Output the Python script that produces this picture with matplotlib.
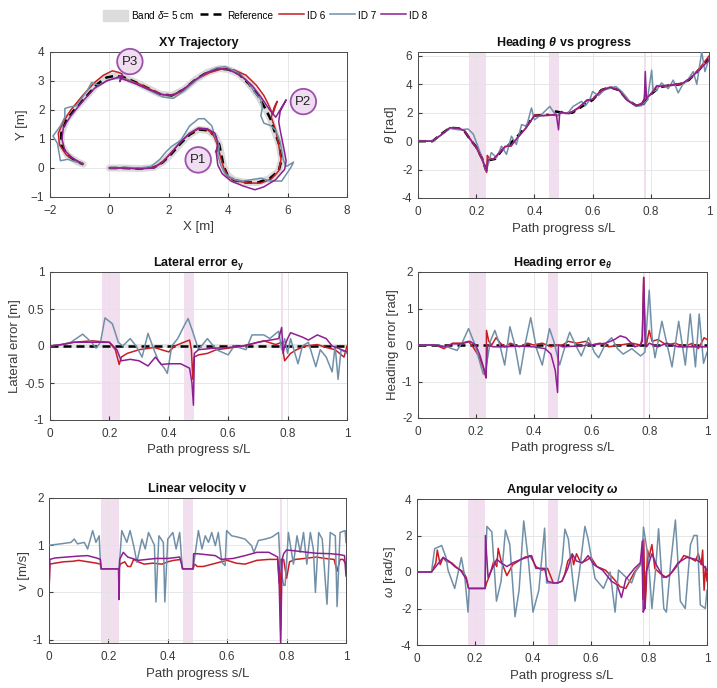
import numpy as np
import matplotlib
matplotlib.use('Agg')
import matplotlib.pyplot as plt
from matplotlib.patches import Patch
from matplotlib.lines import Line2D

plt.rcParams['font.family'] = ['Liberation Sans', 'DejaVu Sans']
plt.rcParams['mathtext.fontset'] = 'custom'
plt.rcParams['mathtext.rm'] = 'Liberation Sans'
plt.rcParams['mathtext.it'] = 'Liberation Sans:italic'
plt.rcParams['mathtext.bf'] = 'Liberation Sans:italic:bold'
plt.rcParams['mathtext.sf'] = 'Liberation Sans:bold'

nan = np.nan

# ---- colours
C6 = '#C81E23'
C7 = '#7190A8'
C8 = '#8E1E92'
BAND = '#F1DEEF'
TXT = '#3A3A3A'

# ---- shaded windows (s/L)
windows = [(0.175, 0.235), (0.45, 0.485), (0.778, 0.784)]

# ---- XY trajectory
ref_x = [0, 0.5, 1.0, 1.5, 1.8, 2.1, 2.4, 2.7, 3.0, 3.3, 3.55, 3.7, 3.78, 3.85, 3.98, 4.2, 4.6, 5.0, 5.4, 5.7,
         5.8, 5.72, 5.55, 5.42, 5.25, 5.0, 4.7, 4.35, 4.0, 3.7, 3.3, 2.9, 2.5, 2.1, 1.7, 1.3, 0.9, 0.5, 0.2,
         -0.1, -0.4, -0.75, -1.15, -1.45, -1.62, -1.62, -1.42, -1.1, -0.88]
ref_y = [0, 0, -0.02, 0.02, 0.2, 0.5, 0.85, 1.15, 1.33, 1.3, 1.12, 0.8, 0.4, 0.05, -0.25, -0.42, -0.5, -0.5, -0.36, -0.1,
         0.3, 0.8, 1.3, 1.7, 2.05, 2.5, 2.9, 3.25, 3.4, 3.43, 3.3, 3.05, 2.7, 2.5, 2.55, 2.75, 2.95, 3.12, 3.18,
         3.12, 2.9, 2.5, 2.05, 1.65, 1.2, 0.8, 0.45, 0.22, 0.13]

id6_x = [0, 0.5, 1.0, 1.5, 1.8, 2.1, 2.4, 2.7, 3.0, 3.3, 3.5, 3.62, 3.65, 3.57, 3.68, 3.75, 3.85, 4.0, 4.3, 4.7, 5.1,
         5.45, 5.7, 5.78, 5.7, 5.6, 5.5, 5.45, 5.55, 5.65, 5.5, 5.35, 5.2, 4.95, 4.6, 4.2, 3.8, 3.4, 3.0, 2.6, 2.2,
         1.8, 1.4, 1.0, 0.6, 0.45, 0.42, 0.3, 0.1, -0.2, -0.5, -0.9, -1.3, -1.55, -1.72, -1.68, -1.45, -1.1, -0.88]
id6_y = [0, 0, -0.02, 0.03, 0.22, 0.55, 0.9, 1.18, 1.35, 1.32, 1.15, 0.85, 0.75, 0.55, 0.62, 0.35, 0.0, -0.3, -0.45, -0.52,
         -0.52, -0.38, -0.1, 0.3, 0.8, 1.3, 1.6, 1.75, 2.1, 2.3, 1.85, 2.2, 2.5, 2.85, 3.2, 3.38, 3.42, 3.3, 3.1, 2.78,
         2.52, 2.52, 2.7, 2.9, 3.05, 3.1, 3.25, 3.3, 3.35, 3.2, 2.95, 2.5, 2.0, 1.6, 1.2, 0.8, 0.45, 0.25, 0.15]

id7_x = [0, 0.5, 1.0, 1.4, 1.7, 1.9, 2.1, 2.4, 2.7, 3.0, 3.2, 3.45, 3.55, 3.7, 3.65, 3.75, 3.9, 4.2, 4.5, 4.8, 5.1,
         5.4, 5.8, 6.1, 6.2, 5.95, 5.85, 5.75, 5.6, 5.45, 5.2, 5.1, 5.15, 5.1, 4.9, 4.6, 4.3, 3.9, 3.6, 3.3, 2.9,
         2.5, 2.15, 1.8, 1.4, 1.0, 0.6, 0.3, 0.0, -0.35, -0.6, -0.7, -0.9, -1.1, -1.35, -1.5, -1.5, -1.65, -1.9,
         -1.75, -1.7, -1.65, -1.4, -1.1, -0.9]
id7_y = [0, 0.02, 0.0, 0.05, 0.3, 0.55, 0.75, 0.95, 1.45, 1.7, 1.7, 1.45, 1.1, 0.75, 0.45, 0.1, -0.2, -0.4, -0.45, -0.4,
         -0.35, -0.45, -0.45, 0.0, 0.2, 0.05, 0.3, 0.9, 1.3, 1.45, 1.55, 1.8, 2.1, 2.35, 2.6, 3.05, 3.3, 3.5, 3.45, 3.3,
         3.0, 2.65, 2.4, 2.45, 2.65, 2.85, 3.05, 3.1, 3.05, 2.85, 2.95, 2.75, 2.45, 2.15, 2.1, 2.05, 1.75, 1.45, 1.1,
         0.85, 0.55, 0.25, 0.3, 0.2, 0.15]

id8_x = [0, 0.5, 1.0, 1.5, 1.8, 2.1, 2.4, 2.7, 3.0, 3.3, 3.55, 3.65, 3.6, 3.65, 3.8, 4.1, 4.5, 4.9, 5.2, 5.6, 5.9,
         5.95, 5.85, 5.75, 5.7, 5.75, 5.95, 5.6, 5.4, 5.1, 4.8, 4.4, 4.0, 3.7, 3.3, 2.9, 2.5, 2.1, 1.7, 1.3, 0.9,
         0.5, 0.38, 0.35, 0.45, 0.2, -0.1, -0.5, -0.9, -1.3, -1.55, -1.6, -1.5, -1.25, -0.9]
id8_y = [0, 0, -0.03, 0.0, 0.2, 0.55, 0.9, 1.2, 1.38, 1.35, 1.2, 0.9, 0.5, 0.1, -0.2, -0.45, -0.62, -0.75, -0.65, -0.4,
         -0.05, 0.25, 0.8, 1.3, 1.6, 1.95, 2.35, 1.75, 2.0, 2.45, 2.85, 3.2, 3.4, 3.42, 3.3, 3.05, 2.72, 2.5, 2.55,
         2.72, 2.9, 3.05, 3.1, 2.98, 3.2, 3.1, 3.0, 2.75, 2.3, 1.8, 1.4, 1.0, 0.6, 0.35, 0.13]

markers_xy = [('P1', 2.99, 0.28), ('P2', 6.53, 2.29), ('P3', 0.69, 3.67)]

# ---- heading theta
th_ref_s = [0, 0.05, 0.08, 0.11, 0.14, 0.16, 0.18, 0.2, 0.22, 0.235, nan, 0.24, 0.265, 0.29, 0.31, 0.34, 0.37, 0.4,
            0.43, 0.45, nan, 0.47, 0.5, 0.53, 0.56, 0.6, 0.63, 0.66, 0.69, 0.72, 0.75, 0.77, 0.785, 0.8, 0.83,
            0.87, 0.9, 0.93, 0.96, 1.0]
th_ref = [0, 0, 0.5, 0.95, 0.9, 0.7, 0.1, -0.4, -1.2, -2.1, nan, -1.35, -1.25, -0.6, -0.3, 0.3, 1.0, 1.8,
          1.85, 1.85, nan, 2.1, 2.0, 2.0, 2.4, 2.9, 3.6, 3.8, 3.6, 2.9, 2.5, 2.5, 2.9, 3.3, 3.8,
          3.95, 4.0, 4.3, 4.9, 5.8]
th6_s = [0, 0.05, 0.08, 0.11, 0.14, 0.16, 0.18, 0.2, 0.22, 0.236, 0.238, 0.245, 0.26, 0.28, 0.3, 0.32, 0.34, 0.37,
         0.39, 0.4, 0.43, 0.46, 0.48, 0.493, 0.505, 0.52, 0.55, 0.58, 0.6, 0.63, 0.66, 0.69, 0.72, 0.75, 0.77,
         0.778, 0.781, 0.785, 0.79, 0.8, 0.82, 0.85, 0.88, 0.91, 0.94, 0.97, 1.0]
th6 = [0, 0, 0.45, 0.95, 0.9, 0.75, 0.15, -0.45, -1.3, -2.2, -1.0, -1.2, -1.25, -0.8, -0.35, -0.35, 0.2, 0.9,
       1.5, 1.85, 1.8, 1.85, 1.8, 2.1, 1.95, 1.95, 2.3, 2.9, 2.95, 3.6, 3.8, 3.6, 2.9, 2.5, 2.7,
       3.0, 3.9, 3.0, 3.2, 3.3, 3.9, 3.85, 3.95, 4.05, 4.5, 5.2, 6.0]
th7_s = [0, 0.05, 0.08, 0.11, 0.14, 0.172, 0.19, 0.21, 0.235, 0.252, 0.27, 0.287, 0.304, 0.321, 0.338, 0.356, 0.373,
         0.39, 0.4, 0.424, 0.453, 0.476, 0.493, 0.516, 0.533, 0.562, 0.575, 0.59, 0.6, 0.62, 0.64, 0.68, 0.7,
         0.728, 0.75, 0.768, 0.788, 0.803, 0.808, 0.82, 0.837, 0.86, 0.877, 0.894, 0.91, 0.923, 0.946, 0.958,
         0.975, 0.986, 1.0]
th7 = [0, 0, 0.45, 0.9, 0.8, 0.86, 0.5, -0.6, -2.1, -0.8, -1.17, -0.35, -0.93, 0.35, -0.23, 1.17, 1.05,
       2.34, 1.5, 1.87, 2.45, 1.75, 2.0, 2.0, 2.45, 2.8, 2.5, 2.9, 3.5, 3.2, 3.6, 3.85, 3.5,
       2.8, 2.45, 2.5, 2.9, 5.0, 3.5, 3.6, 4.1, 3.7, 4.3, 3.4, 4.0, 4.2, 4.9, 4.0,
       6.3, 4.9, 5.8]
th8_s = [0, 0.05, 0.08, 0.11, 0.14, 0.16, 0.18, 0.2, 0.22, 0.236, 0.24, 0.26, 0.28, 0.3, 0.32, 0.34, 0.37, 0.4,
         0.43, 0.46, 0.475, 0.483, 0.487, 0.5, 0.52, 0.55, 0.58, 0.6, 0.63, 0.66, 0.69, 0.72, 0.75, 0.77, 0.778,
         0.781, 0.785, 0.79, 0.8, 0.82, 0.85, 0.88, 0.91, 0.94, 0.97, 1.0]
th8 = [0, 0, 0.45, 0.95, 0.9, 0.72, 0.1, -0.4, -1.2, -2.1, -1.3, -1.25, -0.8, -0.4, -0.3, 0.2, 0.9, 1.8,
       1.8, 1.85, 1.9, 0.8, 2.0, 2.0, 1.95, 2.35, 2.85, 2.95, 3.55, 3.8, 3.6, 2.85, 2.5, 2.6, 3.0,
       4.9, 3.0, 3.1, 3.3, 3.85, 3.9, 4.0, 4.1, 4.5, 5.1, 5.7]

# ---- lateral error e_y
ey6_s = [0, 0.04, 0.08, 0.14, 0.2, 0.22, 0.233, 0.24, 0.26, 0.3, 0.35, 0.4, 0.42, 0.45, 0.47, 0.476, 0.481, 0.485,
         0.5, 0.53, 0.56, 0.6, 0.65, 0.7, 0.72, 0.76, 0.78, 0.79, 0.81, 0.83, 0.86, 0.9, 0.93, 0.96, 0.99, 1.0]
ey6 = [0, 0.02, 0.05, 0.07, 0.05, -0.05, -0.25, -0.15, -0.1, -0.05, -0.02, -0.08, 0.0, 0.05, 0.08, -0.05, -0.45, -0.15,
       -0.12, -0.1, -0.05, -0.03, 0.0, 0.05, 0.07, 0.02, 0.05, -0.2, -0.1, -0.05, 0.0, 0.02, -0.02, -0.05, -0.15, 0.0]
ey7_s = [0, 0.04, 0.07, 0.11, 0.14, 0.155, 0.17, 0.185, 0.21, 0.23, 0.245, 0.27, 0.29, 0.31, 0.33, 0.35, 0.365,
         0.385, 0.395, 0.41, 0.43, 0.455, 0.465, 0.48, 0.5, 0.53, 0.56, 0.6, 0.62, 0.66, 0.68, 0.72, 0.74, 0.77,
         0.78, 0.79, 0.8, 0.81, 0.835, 0.85, 0.87, 0.895, 0.91, 0.93, 0.95, 0.96, 0.97, 0.98, 1.0]
ey7 = [0, 0.02, 0.05, 0.16, 0.05, -0.03, 0.05, 0.38, 0.3, 0.05, 0.0, 0.1, 0.0, -0.15, 0.17, -0.05, -0.2,
       -0.3, -0.37, 0.0, 0.1, 0.3, 0.37, 0.2, -0.05, 0.1, -0.05, -0.12, 0.0, -0.05, 0.15, 0.15, 0.1, 0.2,
       -0.05, 0.1, -0.1, 0.1, -0.24, 0.0, 0.05, -0.28, -0.05, -0.15, -0.35, 0.0, -0.45, -0.05, -0.1]
ey8_s = [0, 0.04, 0.08, 0.2, 0.225, 0.24, 0.27, 0.3, 0.33, 0.355, 0.375, 0.4, 0.44, 0.47, 0.478, 0.483, 0.486,
         0.5, 0.55, 0.6, 0.65, 0.7, 0.77, 0.78, 0.785, 0.79, 0.8, 0.81, 0.85, 0.87, 0.9, 0.93, 0.95, 0.97, 1.0]
ey8 = [0, 0.02, 0.05, 0.05, -0.05, -0.2, -0.18, -0.2, -0.27, -0.15, -0.25, -0.24, -0.24, -0.3, -0.5, -0.8, -0.1,
       -0.05, -0.03, -0.02, 0.0, 0.05, 0.1, 0.25, -0.1, 0.0, 0.1, 0.18, 0.12, 0.08, 0.15, 0.1, 0.0, -0.03, -0.08]

# ---- heading error e_theta
et6_s = [0, 0.06, 0.09, 0.12, 0.15, 0.175, 0.19, 0.21, 0.225, 0.236, 0.237, 0.245, 0.255, 0.27, 0.285, 0.3, 0.32,
         0.35, 0.38, 0.4, 0.43, 0.46, 0.48, 0.5, 0.52, 0.55, 0.58, 0.6, 0.63, 0.66, 0.7, 0.74, 0.77, 0.776, 0.781,
         0.786, 0.79, 0.8, 0.81, 0.83, 0.86, 0.89, 0.92, 0.95, 0.97, 0.99, 1.0]
et6 = [0, 0, -0.1, 0.05, 0.05, 0.1, -0.05, -0.3, -0.6, -0.9, 0.4, 0.1, 0.0, 0.2, 0.05, -0.05, 0.05,
       -0.05, 0.05, 0.0, 0.05, -0.05, 0.0, 0.0, 0.1, 0.05, 0.1, 0.0, 0.05, -0.05, 0.0, 0.05, 0.0, 0.2, 1.85,
       0.3, 0.0, 0.4, 0.1, 0.15, 0.0, 0.05, -0.05, 0.05, -0.1, 0.2, 0.15]
et7_s = [0, 0.07, 0.1, 0.135, 0.155, 0.175, 0.195, 0.215, 0.226, 0.236, 0.25, 0.266, 0.283, 0.3, 0.318, 0.335,
         0.353, 0.37, 0.39, 0.41, 0.43, 0.455, 0.47, 0.49, 0.51, 0.525, 0.545, 0.565, 0.59, 0.61, 0.625, 0.65,
         0.67, 0.69, 0.71, 0.74, 0.77, 0.785, 0.8, 0.81, 0.82, 0.844, 0.879, 0.902, 0.925, 0.942, 0.96, 0.973,
         0.988, 1.0]
et7 = [0, 0, -0.05, -0.15, 0.1, 0.45, 0.05, -0.5, -0.8, -0.6, 0.1, 0.4, 0.0, -0.55, 0.5, 0.0,
       -0.8, 0.0, 0.75, -0.1, -0.55, 0.45, 0.1, -0.55, 0.0, 0.35, 0.0, -0.3, 0.2, -0.2, -0.35, 0.05,
       0.2, -0.1, -0.25, -0.1, -0.3, -0.2, 1.5, 0.2, -0.35, 0.65, -0.6, 0.65, -0.55, 0.85, -0.6, 0.85,
       -0.5, -0.2]
et8_s = [0, 0.06, 0.09, 0.12, 0.15, 0.18, 0.2, 0.215, 0.23, 0.235, 0.24, 0.26, 0.3, 0.35, 0.4, 0.44, 0.46, 0.475,
         0.483, 0.486, 0.5, 0.55, 0.6, 0.65, 0.68, 0.7, 0.72, 0.75, 0.77, 0.776, 0.781, 0.786, 0.79, 0.8, 0.83,
         0.86, 0.9, 0.95, 1.0]
et8 = [0, 0, -0.05, 0.03, 0.03, 0.1, 0.0, -0.3, -0.7, -0.9, 0.0, -0.05, -0.05, -0.03, -0.05, -0.1, -0.25, -0.7,
       -1.3, 0.0, -0.05, -0.03, 0.0, 0.05, 0.15, 0.25, 0.2, -0.05, 0.0, 0.1, 1.85, 0.0, -0.05, 0.05, -0.05,
       0.05, -0.05, -0.05, -0.05]

# ---- linear velocity v
v6_s = [0, 0.003, 0.02, 0.05, 0.08, 0.1, 0.13, 0.16, 0.173, 0.176, 0.235, 0.24, 0.255, 0.265, 0.275, 0.285, 0.3,
        0.32, 0.35, 0.38, 0.4, 0.42, 0.445, 0.45, 0.485, 0.49, 0.5, 0.52, 0.55, 0.58, 0.6, 0.63, 0.66, 0.7, 0.74,
        0.77, 0.775, 0.777, 0.78, 0.783, 0.79, 0.8, 0.81, 0.83, 0.86, 0.9, 0.93, 0.96, 0.97, 0.98, 0.99, 1.0]
v6 = [0, 0.6, 0.62, 0.65, 0.66, 0.68, 0.65, 0.62, 0.6, 0.5, 0.5, 0.6, 0.65, 0.55, 0.55, 0.7, 0.65,
      0.6, 0.62, 0.6, 0.65, 0.68, 0.7, 0.5, 0.5, 0.6, 0.55, 0.55, 0.6, 0.65, 0.68, 0.62, 0.6, 0.68, 0.7,
      0.7, 0.2, 0.7, -0.8, 0.7, 0.7, 0.3, 0.65, 0.7, 0.72, 0.75, 0.72, 0.7, 0.45, 0.7, 0.7, 0.6]
v7_s = [0, 0.002, 0.04, 0.074, 0.085, 0.096, 0.119, 0.13, 0.147, 0.158, 0.169, 0.174, 0.236, 0.245, 0.262, 0.273,
        0.285, 0.296, 0.313, 0.324, 0.335, 0.355, 0.36, 0.37, 0.385, 0.39, 0.4, 0.417, 0.428, 0.44, 0.449, 0.485,
        0.503, 0.515, 0.526, 0.537, 0.548, 0.56, 0.57, 0.582, 0.593, 0.598, 0.615, 0.637, 0.66, 0.682, 0.69,
        0.705, 0.728, 0.75, 0.773, 0.778, 0.79, 0.795, 0.806, 0.823, 0.835, 0.846, 0.857, 0.868, 0.88, 0.89,
        0.897, 0.908, 0.92, 0.936, 0.947, 0.964, 0.97, 0.98, 0.997, 1.0]
v7 = [1.0, 1.0, 1.03, 1.06, 1.13, 1.03, 1.06, 0.92, 1.31, 1.06, 1.2, 0.5, 0.5, 1.31, 1.06, 1.31,
      0.99, 0.64, 1.13, 0.92, 1.27, 1.0, -0.2, 1.2, 1.06, -0.2, 1.13, 1.27, 0.92, 1.27, 0.5, 0.5,
      1.31, 0.92, 1.2, 1.06, 1.27, 0.99, 1.27, 0.64, 0.57, 1.31, 1.2, 1.17, 1.13, 0.99, 0.85,
      1.1, 1.13, 1.17, 1.27, 0.6, 0.15, 0.15, 1.27, 0.6, 1.2, 0.85, 1.27, 0.6, 1.27, 0.92,
      0.0, 1.27, 1.13, -0.25, 1.27, 1.2, -0.3, 1.27, 1.31, 1.06]
v8_s = [0, 0.003, 0.02, 0.06, 0.1, 0.13, 0.16, 0.173, 0.176, 0.234, 0.236, 0.238, 0.25, 0.265, 0.28, 0.3, 0.33,
        0.36, 0.4, 0.44, 0.45, 0.485, 0.487, 0.5, 0.53, 0.56, 0.58, 0.62, 0.66, 0.7, 0.74, 0.77, 0.775, 0.78,
        0.785, 0.79, 0.8, 0.83, 0.87, 0.9, 0.95, 0.98, 0.995, 1.0]
v8 = [0, 0.7, 0.73, 0.75, 0.77, 0.78, 0.73, 0.7, 0.5, 0.5, -0.15, 0.7, 0.85, 0.75, 0.72, 0.68, 0.7,
      0.72, 0.72, 0.75, 0.5, 0.5, 0.82, 0.82, 0.8, 0.78, 0.7, 0.72, 0.78, 0.85, 0.85, 0.75, 0.2, -1.1,
      0.7, 0.82, 0.9, 0.88, 0.85, 0.83, 0.82, 0.8, 0.78, 0.35]

# ---- angular velocity omega
w6_s = [0, 0.05, 0.065, 0.07, 0.08, 0.09, 0.1, 0.12, 0.14, 0.16, 0.17, 0.178, 0.235, 0.24, 0.25, 0.265, 0.275,
        0.28, 0.29, 0.3, 0.31, 0.33, 0.35, 0.37, 0.39, 0.41, 0.43, 0.45, 0.47, 0.485, 0.5, 0.51, 0.52, 0.535,
        0.54, 0.55, 0.565, 0.58, 0.6, 0.62, 0.65, 0.68, 0.7, 0.72, 0.75, 0.77, 0.776, 0.779, 0.782, 0.786,
        0.79, 0.795, 0.8, 0.81, 0.82, 0.84, 0.86, 0.88, 0.9, 0.92, 0.94, 0.96, 0.97, 0.98, 0.985, 0.99, 0.995, 1.0]
w6 = [0, 0, 0.5, 1.2, 0.4, 0.8, 0.6, 0.5, 0.2, 0.0, -0.3, -0.9, -0.9, -0.6, -0.2, 0.6, 0.3,
      1.3, 0.6, 0.2, -0.2, 0.4, 0.6, 0.8, 0.9, 0.3, 0.1, 0.2, -0.6, -0.6, -0.5, -0.1, 0.6, 0.9,
      0.4, 1.0, 0.5, 0.6, 0.8, 0.3, 0.1, -0.4, -0.8, -0.9, 0.0, 0.4, 1.0, -1.5, 1.8, -2.0,
      -1.0, 1.2, 0.8, 1.5, 0.2, -0.1, -0.3, 0.0, 0.4, 0.9, 0.8, 0.6, 1.0, 0.4, 1.2, -1.0, 0.3, -0.5]
w7_s = [0, 0.05, 0.061, 0.085, 0.1, 0.107, 0.13, 0.145, 0.153, 0.165, 0.176, 0.18, 0.234, 0.241, 0.258, 0.274,
        0.29, 0.305, 0.32, 0.338, 0.352, 0.368, 0.385, 0.4, 0.42, 0.44, 0.447, 0.485, 0.5, 0.51, 0.522, 0.545,
        0.56, 0.579, 0.59, 0.614, 0.643, 0.666, 0.683, 0.695, 0.718, 0.74, 0.753, 0.775, 0.781, 0.798, 0.81,
        0.822, 0.833, 0.851, 0.86, 0.875, 0.891, 0.908, 0.925, 0.943, 0.955, 0.966, 0.977, 0.994, 1.0]
w7 = [0, 0, 1.28, 1.45, 0.8, 0.1, -0.9, 0.2, 0.8, -0.3, -2.2, -0.9, -0.9, 2.5, 2.2, -1.6,
      -0.5, 2.3, 1.5, -2.45, -1.0, 2.8, 0.5, -2.2, -1.0, 2.4, -0.6, -0.6, 0.5, 2.35, 1.8, -1.6,
      0.0, 2.5, 1.8, -0.35, -0.9, 0.0, -2.2, 0.1, -0.25, -0.6, 0.0, 0.5, 2.46, 0.7, -2.0,
      0.0, 2.37, -2.0, -2.2, 0.5, 2.85, -1.6, -2.0, 1.5, 2.0, 2.0, -1.8, -2.0, -1.0]
w8_s = [0, 0.05, 0.07, 0.09, 0.11, 0.13, 0.15, 0.17, 0.178, 0.235, 0.236, 0.245, 0.26, 0.275, 0.29, 0.31, 0.33,
        0.36, 0.38, 0.395, 0.41, 0.44, 0.45, 0.47, 0.485, 0.5, 0.52, 0.535, 0.55, 0.57, 0.59, 0.61, 0.64, 0.67,
        0.69, 0.705, 0.72, 0.75, 0.77, 0.777, 0.78, 0.785, 0.79, 0.8, 0.81, 0.825, 0.85, 0.87, 0.9, 0.93, 0.96,
        0.98, 1.0]
w8 = [0, 0, 0.4, 0.8, 0.6, 0.3, 0.1, -0.4, -0.9, -0.9, 2.0, -0.3, 0.2, 0.7, 0.5, 0.3, 0.5,
      0.7, 0.8, 0.9, 0.2, 0.2, -0.5, -0.6, -0.6, -0.5, 0.2, 1.0, 0.6, 0.5, 0.9, 0.4, 0.1, -0.5,
      -0.7, -1.4, -0.4, 0.2, 0.5, 1.7, -2.2, -2.0, 0.0, 0.5, 1.0, 0.4, -0.3, -0.2, 0.5, 0.8, 0.7,
      0.5, 0.1]


def style(ax, title, xlabel, ylabel, xlim, ylim, yticks, xticks):
    ax.set_xlim(xlim)
    ax.set_ylim(ylim)
    ax.set_xticks(xticks)
    ax.set_yticks(yticks)
    ax.grid(True, color='#E3E3E3', lw=0.6)
    ax.set_axisbelow(True)
    ax.tick_params(direction='in', length=3, labelsize=8.5, colors=TXT, pad=4)
    ax.tick_params(axis='x', pad=6)
    for sp in ax.spines.values():
        sp.set_color('#4A4A4A')
        sp.set_linewidth(0.7)
    ax.set_title(title, fontsize=9, fontweight='bold', pad=4, color='#111111')
    ax.set_xlabel(xlabel, fontsize=9.5, color=TXT, labelpad=3)
    ax.set_ylabel(ylabel, fontsize=9.5, color=TXT, labelpad=2)


def fmt(v):
    return '%g' % v


def progress_axes(ax):
    for a, b in windows:
        ax.axvspan(a, b, color=BAND, lw=0, zorder=0.5)
    ax.set_xticklabels([fmt(t) for t in ax.get_xticks()])
    ax.set_yticklabels([fmt(t) for t in ax.get_yticks()])


fig = plt.figure(figsize=(7.17, 6.88), dpi=100)
W, H = 717.0, 688.0


def add(l, r, t, b):
    return fig.add_axes([l / W, 1 - b / H, (r - l) / W, (b - t) / H])


sticks = [0, 0.2, 0.4, 0.6, 0.8, 1.0]
dash = dict(color='k', lw=1.8, dashes=(3.2, 2.0))

# XY trajectory
ax = add(50, 347, 52, 197)
ax.plot(ref_x, ref_y, color='#DADADA', lw=5, solid_capstyle='round', zorder=1)
ax.plot(ref_x, ref_y, zorder=2, **dash)
ax.plot(id6_x, id6_y, color=C6, lw=1.1, zorder=3)
ax.plot(id7_x, id7_y, color=C7, lw=1.1, zorder=3)
ax.plot(id8_x, id8_y, color=C8, lw=1.1, zorder=3)
for name, px, py in markers_xy:
    ax.text(px, py, name, ha='center', va='center', fontsize=9.5, color='#222222', zorder=5,
            bbox=dict(boxstyle='circle,pad=0.35', fc='#F0DDF1', ec='#9D52AA', lw=1.3))
style(ax, 'XY Trajectory', 'X [m]', 'Y [m]', (-2, 8), (-1, 4), range(-1, 5), range(-2, 9, 2))

# Heading
ax = add(418, 709, 52, 198)
style(ax, r'Heading $\mathbf{\theta}$ vs progress', 'Path progress s/L', r'$\theta$ [rad]',
      (0, 1), (-4, 6.28), [-4, -2, 0, 2, 4, 6], sticks)
progress_axes(ax)
ax.plot(th_ref_s, th_ref, zorder=2, **dash)
ax.plot(th6_s, th6, color=C6, lw=1.1, zorder=3)
ax.plot(th7_s, th7, color=C7, lw=1.1, zorder=3)
ax.plot(th8_s, th8, color=C8, lw=1.1, zorder=3)

# Lateral error
ax = add(50, 347, 272, 420)
style(ax, r'Lateral error e$_\mathsf{y}$', 'Path progress s/L', 'Lateral error [m]',
      (0, 1), (-1, 1), [-1, -0.5, 0, 0.5, 1], sticks)
progress_axes(ax)
ax.fill_between([0, 1], [-0.025, -0.025], [0.025, 0.025], color='#E4E4E4', lw=0, zorder=1)
ax.plot([0, 1], [0, 0], zorder=2, **dash)
ax.plot(ey6_s, ey6, color=C6, lw=1.1, zorder=3)
ax.plot(ey7_s, ey7, color=C7, lw=1.1, zorder=3)
ax.plot(ey8_s, ey8, color=C8, lw=1.1, zorder=3)

# Heading error
ax = add(418, 707, 272, 418)
style(ax, r'Heading error e$_\mathbf{\theta}$', 'Path progress s/L', 'Heading error [rad]',
      (0, 1), (-2, 2), [-2, -1, 0, 1, 2], sticks)
progress_axes(ax)
ax.plot([0, 1], [0, 0], zorder=2, **dash)
ax.plot(et6_s, et6, color=C6, lw=1.1, zorder=3)
ax.plot(et7_s, et7, color=C7, lw=1.1, zorder=3)
ax.plot(et8_s, et8, color=C8, lw=1.1, zorder=3)

# Linear velocity
ax = add(49, 346, 498, 643)
style(ax, 'Linear velocity v', 'Path progress s/L', 'v [m/s]',
      (0, 1), (-1.07, 2), [-1, 0, 1, 2], sticks)
progress_axes(ax)
ax.plot(v6_s, v6, color=C6, lw=1.1, zorder=3)
ax.plot(v7_s, v7, color=C7, lw=1.1, zorder=3)
ax.plot(v8_s, v8, color=C8, lw=1.1, zorder=3)

# Angular velocity
ax = add(417, 707, 499, 645)
style(ax, r'Angular velocity $\mathbf{\omega}$', 'Path progress s/L', r'$\omega$ [rad/s]',
      (0, 1), (-4, 4), [-4, -2, 0, 2, 4], sticks)
progress_axes(ax)
ax.plot(w6_s, w6, color=C6, lw=1.1, zorder=3)
ax.plot(w7_s, w7, color=C7, lw=1.1, zorder=3)
ax.plot(w8_s, w8, color=C8, lw=1.1, zorder=3)

handles = [Patch(color='#DCDCDC'),
           Line2D([], [], **dash),
           Line2D([], [], color=C6, lw=1.1),
           Line2D([], [], color=C7, lw=1.1),
           Line2D([], [], color=C8, lw=1.1)]
labels = [r'Band $\delta$= 5 cm', 'Reference', 'ID 6', 'ID 7', 'ID 8']
fig.legend(handles, labels, loc='upper center', bbox_to_anchor=(0.37, 1.0), ncol=5, frameon=False,
           fontsize=7.2, handlelength=2.5, handleheight=1.4, handletextpad=0.3, columnspacing=0.5)

fig.savefig('out.png', dpi=100)
